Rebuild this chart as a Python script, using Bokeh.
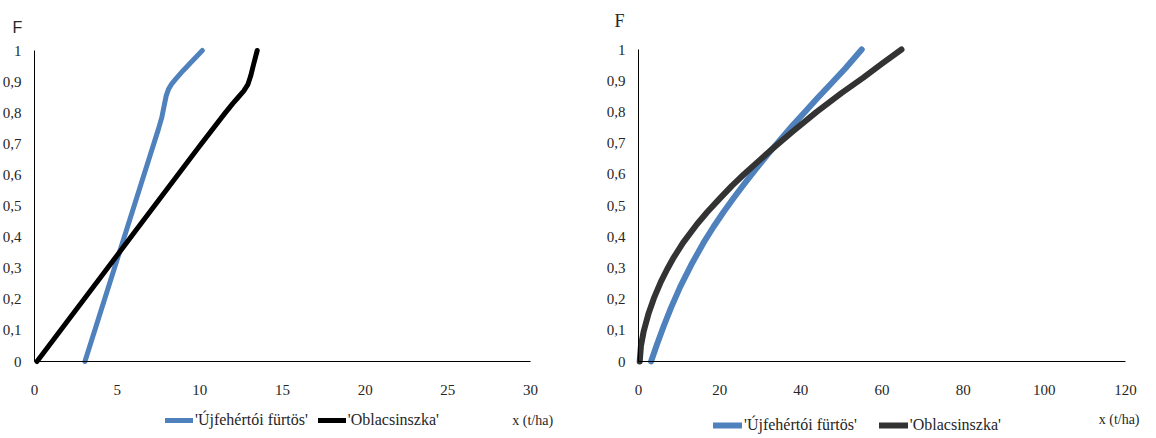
from bokeh.plotting import figure
from bokeh.layouts import row
from bokeh.models import Range1d, FixedTicker, Legend, LegendItem, Label
from bokeh.embed import file_html
from bokeh.resources import INLINE

# ---- data ----
left_ujf_x = [3.05, 4.0, 5.0, 6.0, 7.0, 7.5, 7.7, 7.85, 7.97, 8.1, 8.3, 8.6, 9.0, 9.5, 10.15]
left_ujf_y = [0.0, 0.16, 0.328, 0.496, 0.664, 0.748, 0.785, 0.825, 0.855, 0.875, 0.893, 0.912, 0.936, 0.964, 1.0]
left_obl_x = [0.15, 2.0, 4.0, 6.0, 8.0, 10.0, 11.5, 12.0, 12.3, 12.66, 12.9, 13.07, 13.25, 13.47]
left_obl_y = [0.0, 0.13, 0.271, 0.412, 0.553, 0.694, 0.797, 0.83, 0.848, 0.87, 0.89, 0.917, 0.955, 1.0]

right_ujf_x = [3.1, 4.5, 6.2, 8.0, 10.3, 13.0, 16.0, 18.5, 21.0, 23.4, 26.0, 29.0, 32.0, 35.0, 38.0, 41.0, 44.0, 47.2, 51.0, 55.0]
right_ujf_y = [0.0, 0.053, 0.113, 0.172, 0.24, 0.31, 0.38, 0.432, 0.48, 0.523, 0.568, 0.618, 0.666, 0.712, 0.757, 0.8, 0.843, 0.887, 0.94, 1.0]
right_obl_x = [0.3, 0.6, 1.3, 2.5, 3.8, 5.5, 7.0, 8.7, 11.0, 14.4, 17.0, 20.0, 23.0, 26.0, 30.0, 33.3, 38.0, 43.9, 50.0, 55.4, 60.0, 64.8]
right_obl_y = [0.0, 0.05, 0.098, 0.155, 0.203, 0.255, 0.294, 0.334, 0.381, 0.44, 0.48, 0.522, 0.563, 0.6, 0.647, 0.685, 0.737, 0.8, 0.86, 0.91, 0.955, 1.0]

y_ticks = [0, 0.1, 0.2, 0.3, 0.4, 0.5, 0.6, 0.7, 0.8, 0.9, 1.0]
y_tick_labels = ["0", "0,1", "0,2", "0,3", "0,4", "0,5", "0,6", "0,7", "0,8", "0,9", "1"]
left_x_ticks = [0, 5, 10, 15, 20, 25, 30]
right_x_ticks = [0, 20, 40, 60, 80, 100, 120]
left_x_max = 30
right_x_max = 120

series_names = ["'Újfehértói fürtös'", "'Oblacsinszka'"]
x_title = "x (t/ha)"
y_title = "F"

BLUE = "#4F81BD"
TXT = "#262626"
SERIF = "Liberation Serif"
H = 438


def make_fig(width, ox, px_right, oy, py_top, xmax, xticks):
    """ox/oy: pixel of data origin; px_right: pixel of xmax; py_top: pixel of y=1."""
    sx = (px_right - ox) / xmax
    sy = (oy - py_top) / 1.0
    xr = Range1d(-ox / sx, (width - ox) / sx)
    yr = Range1d(-(H - oy) / sy, oy / sy)
    p = figure(output_backend="svg", toolbar_location=None, width=width, height=H,
               x_range=xr, y_range=yr, min_border=0)
    for ax in (p.xaxis[0], p.yaxis[0]):
        ax.fixed_location = 0
        ax.axis_line_color = "black"
        ax.axis_line_width = 1
        ax.major_tick_line_color = None
        ax.minor_tick_line_color = None
        ax.major_tick_out = 0
        ax.major_tick_in = 0
        ax.minor_tick_out = 0
        ax.minor_tick_in = 0
        ax.major_label_text_font = SERIF
        ax.major_label_text_font_size = "15px"
        ax.major_label_text_color = TXT
    p.yaxis[0].ticker = FixedTicker(ticks=y_ticks)
    p.yaxis[0].major_label_overrides = dict(zip(y_ticks, y_tick_labels))
    p.yaxis[0].bounds = (0, 1)
    p.yaxis[0].major_label_standoff = 13
    p.xaxis[0].ticker = FixedTicker(ticks=xticks)
    p.xaxis[0].bounds = (0, xmax)
    p.xaxis[0].major_label_standoff = 23
    p.xgrid.visible = False
    p.ygrid.visible = False
    p.outline_line_color = None
    return p


# ---- left chart ----
p1 = make_fig(580, 34, 530, 361, 50, left_x_max, left_x_ticks)
r1a = p1.line(left_ujf_x, left_ujf_y, line_color=BLUE, line_width=5, line_join="round", line_cap="round")
r1b = p1.line(left_obl_x, left_obl_y, line_color="black", line_width=5, line_join="round", line_cap="round")
leg1 = Legend(items=[LegendItem(label=series_names[0], renderers=[r1a]),
                     LegendItem(label=series_names[1], renderers=[r1b])],
              location=(165, 8), orientation="horizontal",
              glyph_width=28, glyph_height=20, label_height=20,
              label_standoff=2, spacing=10, padding=0, margin=0,
              border_line_color=None, background_fill_alpha=0,
              label_text_font=SERIF, label_text_font_size="16px", label_text_color=TXT)
p1.add_layout(leg1, "center")
p1.add_layout(Label(x=28.9, y=-0.19, text=x_title, text_font=SERIF, text_font_size="14px",
                    text_color=TXT, text_align="left", text_baseline="middle"))
p1.add_layout(Label(x=-1.03, y=1.075, text=y_title, text_font="Liberation Sans", text_font_size="16px",
                    text_color=TXT, text_align="center", text_baseline="middle"))

# ---- right chart ----
p2 = make_fig(576, 58, 545, 361, 49, right_x_max, right_x_ticks)
r2a = p2.line(right_ujf_x, right_ujf_y, line_color=BLUE, line_width=6, line_join="round", line_cap="round")
r2b = p2.line(right_obl_x, right_obl_y, line_color="#333333", line_width=6, line_join="round", line_cap="round")
leg2 = Legend(items=[LegendItem(label=series_names[0], renderers=[r2a]),
                     LegendItem(label=series_names[1], renderers=[r2b])],
              location=(133, 3), orientation="horizontal",
              glyph_width=29, glyph_height=20, label_height=20,
              label_standoff=2, spacing=22, padding=0, margin=0,
              border_line_color=None, background_fill_alpha=0,
              label_text_font=SERIF, label_text_font_size="16px", label_text_color=TXT)
p2.add_layout(leg2, "center")
p2.add_layout(Label(x=113.4, y=-0.186, text=x_title, text_font=SERIF, text_font_size="14px",
                    text_color=TXT, text_align="left", text_baseline="middle"))
p2.add_layout(Label(x=-4.68, y=1.09, text=y_title, text_font=SERIF, text_font_size="18px",
                    text_color=TXT, text_align="center", text_baseline="middle"))

layout = row(p1, p2, spacing=0)
open("out.html", "w").write(file_html(layout, INLINE))
